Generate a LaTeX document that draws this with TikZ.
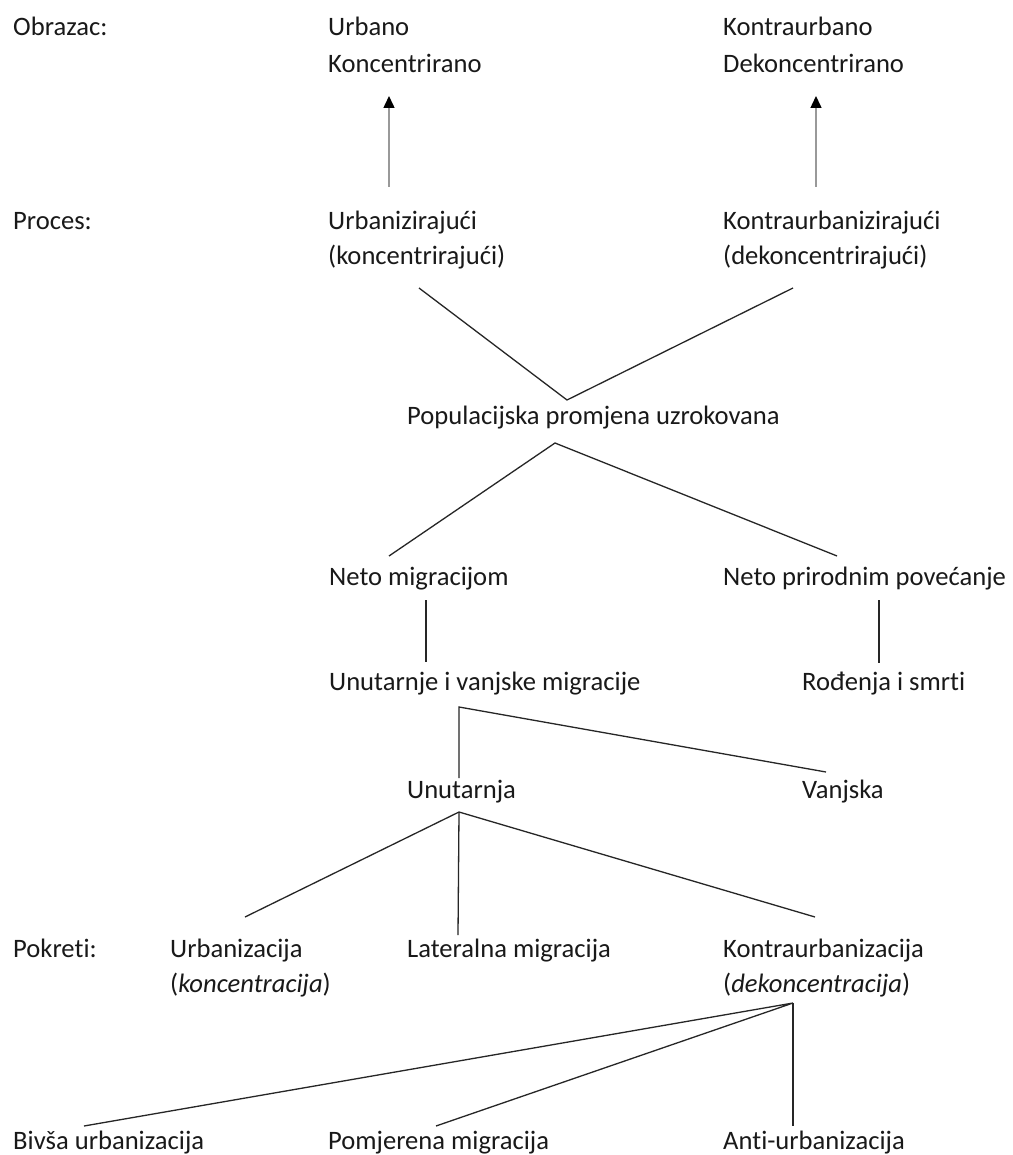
\documentclass[tikz,border=0pt]{standalone}
\usepackage{fontspec}
\setmainfont[Ligatures=NoCommon]{Carlito}
\usetikzlibrary{arrows.meta}
\newcommand{\nolig}{\kern0pt{}}
\begin{document}
\begin{tikzpicture}[x=1pt,y=-1pt,
  txt/.style={anchor=base west,inner sep=0pt,font=\fontsize{26.6}{32}\selectfont,text=black!90},
  link/.style={draw=black!85,line width=1.3pt},
  uparrow/.style={draw=black!40,line width=1.5pt,-{Triangle[length=12pt,width=11pt,color=black]}}]
\useasboundingbox (0,0) rectangle (1012,1155);
\fill[white] (0,0) rectangle (1012,1155);
% row labels
\node[txt] (obrazac) at (13,36) {Obrazac:};
\node[txt] (proces) at (13,230) {Proces:};
\node[txt] (pokreti) at (13,957) {Pokret\nolig i:};
% pattern
\node[txt] (urbano) at (328,36) {Urbano};
\node[txt] (konc) at (328,73) {Koncentrirano};
\node[txt] (kurbano) at (723,36) {Kontraurbano};
\node[txt] (dekonc) at (723,73) {Dekoncentrirano};
% process
\node[txt] (urbz) at (328,230) {Urbanizirajući};
\node[txt] (urbz2) at (328,265) {(koncentrirajući)};
\node[txt] (kurbz) at (723,230) {Kontraurbanizirajući};
\node[txt] (kurbz2) at (723,265) {(dekoncentrirajući)};
% middle
\node[txt] (pop) at (407,424) {Populacijska promjena uzrokovana};
\node[txt] (netomig) at (329,585) {Neto migracijom};
\node[txt] (netopri) at (723,585) {Neto prirodnim povećanje};
\node[txt] (unvan) at (329,690) {Unutarnje i vanjske migracije};
\node[txt] (rodj) at (802,690) {Rođenja i smrt\nolig i};
\node[txt] (unut) at (407,798) {Unutarnja};
\node[txt] (vanj) at (802,798) {Vanjska};
% movements
\node[txt] (urbc) at (170,957) {Urbanizacija};
\node[txt] (urbc2) at (170,992) {(\textit{koncentracija})};
\node[txt] (lat) at (407,957) {Lateralna migracija};
\node[txt] (kurbc) at (723,957) {Kontraurbanizacija};
\node[txt] (kurbc2) at (723,992) {(\textit{dekoncentracija})};
\node[txt] (bivsa) at (13,1149) {Bivša urbanizacija};
\node[txt] (pomj) at (328,1149) {Pomjerena migracija};
\node[txt] (anti) at (723,1149) {Ant\nolig i-urbanizacija};
% connector points
\coordinate (a1s) at (389,187); \coordinate (a1e) at (389,96);
\coordinate (a2s) at (816,187); \coordinate (a2e) at (816,96);
\coordinate (pL) at (419,288); \coordinate (pR) at (793,288); \coordinate (pTop) at (567,400);
\coordinate (pBot) at (555,443); \coordinate (nL) at (389,556); \coordinate (nR) at (837,556);
\coordinate (nmB) at (426,600); \coordinate (uvT) at (426,662);
\coordinate (npB) at (879,600); \coordinate (rsT) at (879,663);
\coordinate (uvB) at (459,707); \coordinate (unT) at (459,778); \coordinate (vaT) at (826,772);
\coordinate (unB) at (459,812); \coordinate (ucT) at (245,917); \coordinate (laT) at (458,935); \coordinate (kuT) at (815,917);
\coordinate (kuB) at (793,1003); \coordinate (bvT) at (84,1126); \coordinate (pmT) at (436,1126); \coordinate (anT) at (793,1126);
% connectors
\draw[uparrow] (a1s) -- (a1e);
\draw[uparrow] (a2s) -- (a2e);
\draw[link] (pL) -- (pTop) -- (pR);
\draw[link] (nL) -- (pBot) -- (nR);
\draw[link] (nmB) -- (uvT);
\draw[link] (npB) -- (rsT);
\draw[link] (unT) -- (uvB) -- (vaT);
\draw[link] (ucT) -- (unB) -- (kuT);
\draw[link] (unB) -- (laT);
\draw[link] (bvT) -- (kuB) -- (pmT);
\draw[link] (kuB) -- (anT);
\end{tikzpicture}
\end{document}
